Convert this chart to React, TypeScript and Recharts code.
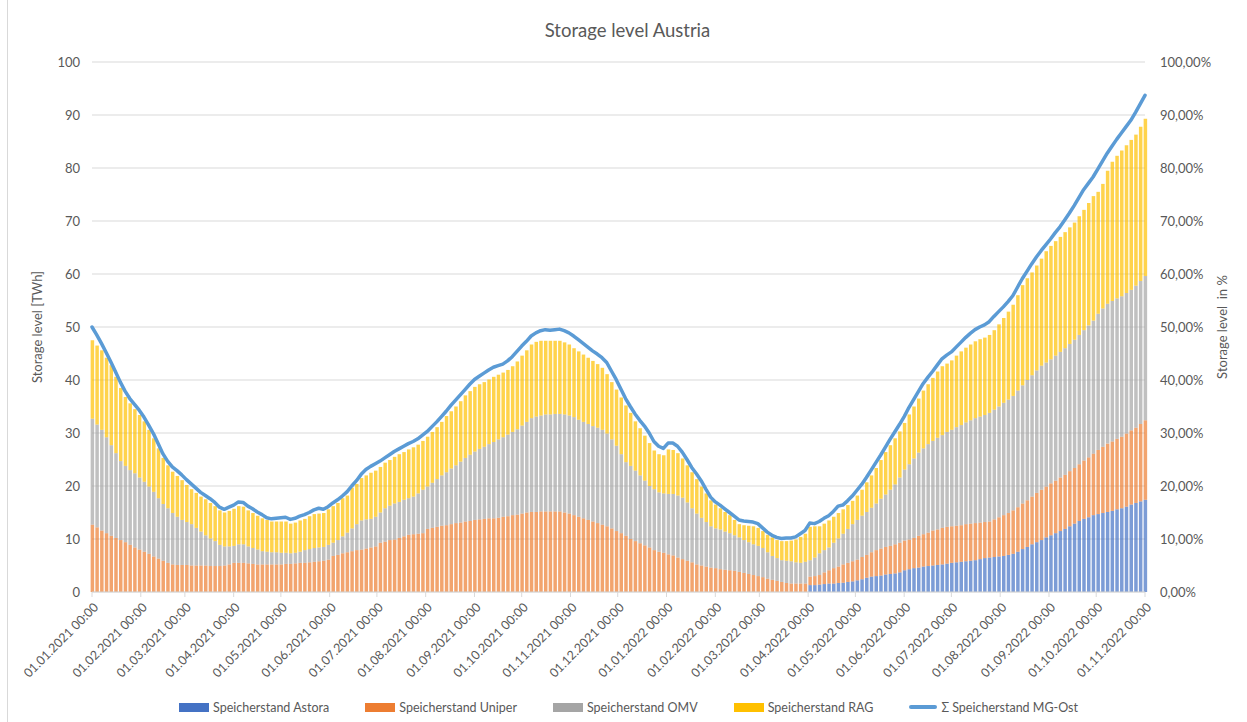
import React from "react";
import {
  Bar,
  CartesianGrid,
  ComposedChart,
  Legend,
  Line,
  XAxis,
  YAxis,
} from "recharts";

// one sample every 3 days, starting 01.01.2021
const STEP_DAYS = 3;
const START = Date.UTC(2021, 0, 1);

const monthLabels = [
  "01.01.2021 00:00", "01.02.2021 00:00", "01.03.2021 00:00", "01.04.2021 00:00",
  "01.05.2021 00:00", "01.06.2021 00:00", "01.07.2021 00:00", "01.08.2021 00:00",
  "01.09.2021 00:00", "01.10.2021 00:00", "01.11.2021 00:00", "01.12.2021 00:00",
  "01.01.2022 00:00", "01.02.2022 00:00", "01.03.2022 00:00", "01.04.2022 00:00",
  "01.05.2022 00:00", "01.06.2022 00:00", "01.07.2022 00:00", "01.08.2022 00:00",
  "01.09.2022 00:00", "01.10.2022 00:00", "01.11.2022 00:00",
];

const levelTicks = [0, 10, 20, 30, 40, 50, 60, 70, 80, 90, 100];

// TWh
const astora = [
  0, 0, 0, 0, 0, 0, 0, 0, 0, 0,
  0, 0, 0, 0, 0, 0, 0, 0, 0, 0,
  0, 0, 0, 0, 0, 0, 0, 0, 0, 0,
  0, 0, 0, 0, 0, 0, 0, 0, 0, 0,
  0, 0, 0, 0, 0, 0, 0, 0, 0, 0,
  0, 0, 0, 0, 0, 0, 0, 0, 0, 0,
  0, 0, 0, 0, 0, 0, 0, 0, 0, 0,
  0, 0, 0, 0, 0, 0, 0, 0, 0, 0,
  0, 0, 0, 0, 0, 0, 0, 0, 0, 0,
  0, 0, 0, 0, 0, 0, 0, 0, 0, 0,
  0, 0, 0, 0, 0, 0, 0, 0, 0, 0,
  0, 0, 0, 0, 0, 0, 0, 0, 0, 0,
  0, 0, 0, 0, 0, 0, 0, 0, 0, 0,
  0, 0, 0, 0, 0, 0, 0, 0, 0, 0,
  0, 0, 0, 0, 0, 0, 0, 0, 0, 0,
  0, 0, 1.3, 1.3, 1.4, 1.5, 1.6, 1.6, 1.7, 1.75,
  1.9, 2.0, 2.2, 2.4, 2.7, 2.9, 3.0, 3.1, 3.3, 3.4,
  3.5, 3.7, 4.1, 4.3, 4.5, 4.6, 4.8, 4.9, 5.0, 5.1,
  5.2, 5.35, 5.5, 5.6, 5.7, 5.8, 5.9, 6.0, 6.2, 6.4,
  6.5, 6.6, 6.7, 6.8, 7.0, 7.2, 7.6, 8.1, 8.5, 9.0,
  9.4, 9.8, 10.3, 10.7, 11.1, 11.5, 11.9, 12.4, 12.9, 13.4,
  13.8, 14.1, 14.5, 14.7, 14.9, 15.1, 15.3, 15.6, 15.8, 16.1,
  16.5, 16.8, 17.1, 17.4,
];

const uniper = [
  12.7, 12.2, 11.6, 11.1, 10.6, 10.2, 9.8, 9.4, 8.9, 8.4,
  8.0, 7.6, 7.2, 6.7, 6.3, 5.9, 5.5, 5.2, 5.1, 5.1,
  5.1, 5.0, 5.0, 5.0, 5.0, 4.9, 4.9, 4.9, 5.0, 5.2,
  5.5, 5.5, 5.5, 5.4, 5.3, 5.2, 5.2, 5.2, 5.2, 5.2,
  5.2, 5.3, 5.3, 5.4, 5.5, 5.5, 5.6, 5.7, 5.8, 5.9,
  6.1, 6.8, 7.0, 7.3, 7.5, 7.7, 7.9, 8.0, 8.2, 8.4,
  8.6, 9.3, 9.5, 9.8, 9.9, 10.2, 10.5, 10.8, 10.9, 11.0,
  11.1, 11.9, 12.1, 12.3, 12.5, 12.6, 12.8, 13.0, 13.1, 13.3,
  13.4, 13.6, 13.7, 13.8, 13.9, 13.9, 14.0, 14.2, 14.3, 14.5,
  14.6, 14.8, 15.0, 15.1, 15.1, 15.2, 15.2, 15.2, 15.2, 15.2,
  15.0, 14.8, 14.5, 14.2, 13.9, 13.6, 13.3, 13.0, 12.7, 12.4,
  12.0, 11.5, 11.1, 10.6, 10.0, 9.6, 9.2, 8.8, 8.4, 7.9,
  7.6, 7.4, 7.1, 6.9, 6.5, 6.2, 5.9, 5.6, 5.2, 5.0,
  4.8, 4.6, 4.5, 4.3, 4.2, 4.1, 4.0, 3.8, 3.6, 3.4,
  3.2, 3.0, 2.8, 2.5, 2.3, 2.1, 1.9, 1.7, 1.6, 1.6,
  1.6, 1.6, 1.6, 1.7, 1.8, 2.2, 2.5, 2.9, 3.1, 3.45,
  3.6, 3.8, 3.9, 4.2, 4.3, 4.6, 4.9, 5.1, 5.2, 5.3,
  5.5, 5.6, 5.6, 5.6, 5.7, 6.0, 6.1, 6.3, 6.6, 6.7,
  6.9, 6.95, 6.9, 6.9, 6.9, 7.0, 7.0, 7.0, 6.9, 6.8,
  6.8, 7.1, 7.4, 7.7, 7.9, 8.2, 8.4, 8.6, 8.8, 9.0,
  9.3, 9.5, 9.6, 9.8, 9.9, 10.1, 10.2, 10.4, 10.5, 10.7,
  11.0, 11.3, 11.6, 12.1, 12.5, 12.9, 13.1, 13.3, 13.5, 13.8,
  14.0, 14.2, 14.6, 15.0,
];

const omv = [
  20.0, 19.4, 19.0, 18.1, 17.1, 16.0, 14.9, 14.4, 14.1, 14.0,
  13.6, 13.2, 12.7, 12.2, 11.4, 10.7, 10.3, 9.7, 9.1, 8.5,
  8.1, 7.8, 7.1, 6.4, 5.7, 5.2, 4.7, 4.0, 3.6, 3.4,
  3.2, 3.5, 3.5, 3.2, 3.0, 2.8, 2.5, 2.4, 2.3, 2.3,
  2.2, 2.1, 2.0, 2.0, 2.1, 2.4, 2.5, 2.6, 2.6, 2.6,
  2.8, 2.5, 2.8, 3.2, 3.7, 4.3, 4.9, 5.5, 5.5, 5.4,
  5.6, 5.7, 6.3, 6.5, 6.8, 6.8, 6.9, 6.9, 7.1, 7.6,
  8.2, 8.0, 8.5, 9.0, 9.5, 10.0, 10.5, 10.9, 11.5, 12.0,
  12.5, 12.9, 13.3, 13.6, 14.0, 14.4, 14.8, 15.0, 15.4, 15.7,
  16.1, 16.6, 17.1, 17.7, 18.0, 18.1, 18.3, 18.3, 18.4, 18.4,
  18.5, 18.5, 18.5, 18.3, 18.2, 18.1, 18.0, 18.0, 17.9, 17.5,
  16.8, 16.1, 14.9, 13.9, 13.8, 13.3, 12.8, 12.2, 11.6, 11.5,
  11.2, 11.2, 11.4, 11.6, 11.7, 11.6, 11.0, 10.2, 9.6, 9.0,
  8.4, 7.8, 7.5, 7.5, 7.2, 7.0, 6.7, 6.5, 6.2, 6.0,
  5.8, 5.7, 5.5, 5.0, 4.5, 4.3, 4.1, 4.2, 4.2, 4.0,
  3.9, 4.1, 3.1, 3.5, 4.1, 4.2, 4.3, 4.8, 5.3, 5.8,
  6.4, 7.0, 7.5, 7.8, 8.1, 8.4, 8.8, 9.4, 9.9, 10.6,
  11.3, 12.3, 13.4, 14.2, 15.0, 15.7, 16.2, 16.7, 16.9, 17.3,
  17.5, 17.9, 18.2, 18.6, 18.9, 19.2, 19.5, 19.8, 20.0, 20.2,
  20.5, 20.7, 20.9, 21.2, 21.4, 21.6, 22.0, 22.3, 22.7, 22.9,
  23.1, 23.4, 23.4, 23.4, 23.6, 23.7, 23.9, 24.0, 24.2, 24.4,
  24.6, 24.9, 25.1, 25.7, 26.1, 26.4, 26.5, 26.5, 26.5, 26.5,
  26.5, 26.8, 27.0, 27.2,
];

const rag = [
  14.8, 14.9, 15.0, 15.0, 15.1, 14.4, 13.8, 13.0, 12.6, 12.1,
  11.8, 11.4, 10.7, 10.1, 9.4, 8.7, 8.1, 7.8, 7.7, 7.5,
  7.0, 6.6, 6.6, 6.6, 6.8, 6.7, 6.6, 6.5, 6.4, 6.7,
  7.0, 7.2, 7.1, 6.8, 6.6, 6.4, 6.2, 6.0, 5.8, 5.8,
  5.9, 5.9, 5.6, 5.7, 5.9, 5.9, 6.2, 6.4, 6.4, 6.4,
  6.7, 6.9, 7.0, 7.2, 7.0, 7.7, 7.6, 8.0, 8.3, 8.7,
  8.7, 8.6, 8.6, 8.6, 8.8, 9.0, 9.0, 9.2, 9.3, 9.2,
  9.2, 9.4, 9.6, 9.8, 10.1, 10.6, 10.8, 11.1, 11.4, 11.8,
  12.0, 12.2, 12.2, 12.2, 12.2, 12.3, 12.2, 12.2, 12.2, 12.4,
  12.8, 13.2, 13.5, 13.9, 14.1, 14.1, 13.9, 13.9, 13.8, 13.8,
  13.6, 13.4, 13.0, 12.9, 12.7, 12.5, 12.3, 12.0, 11.7, 11.2,
  10.8, 10.6, 10.7, 10.7, 10.0, 9.3, 8.9, 8.5, 8.1, 7.3,
  7.2, 7.2, 8.4, 8.3, 8.0, 7.4, 7.0, 6.8, 6.5, 5.9,
  5.4, 4.9, 4.5, 4.0, 3.7, 3.4, 2.9, 2.5, 2.8, 3.1,
  3.4, 3.4, 3.2, 3.3, 3.5, 3.4, 3.6, 3.7, 3.9, 4.3,
  4.9, 5.3, 6.3, 5.9, 5.1, 5.0, 5.1, 4.9, 4.8, 4.6,
  4.5, 4.4, 4.6, 4.9, 5.6, 6.1, 6.7, 7.3, 8.0, 8.4,
  8.7, 8.7, 8.8, 9.4, 9.8, 10.2, 10.9, 11.3, 11.9, 12.5,
  13.0, 12.9, 13.1, 13.5, 13.9, 14.1, 14.3, 14.5, 14.6, 14.6,
  14.7, 15.0, 15.5, 16.0, 16.6, 17.2, 18.0, 18.9, 19.2, 19.4,
  19.8, 20.2, 21.0, 21.4, 21.6, 21.7, 21.9, 22.0, 22.1, 22.4,
  22.7, 23.1, 23.5, 23.0, 23.5, 25.1, 26.3, 26.9, 27.5, 27.9,
  28.3, 28.5, 29.1, 29.7,
];

// fill level in % (secondary axis)
const totalPct = [
  50.0, 48.5, 46.9, 45.2, 43.4, 41.5, 39.6, 37.9, 36.5, 35.4,
  34.3, 33.0, 31.5, 29.9, 28.0, 26.1, 24.7, 23.6, 22.9, 22.1,
  21.2, 20.4, 19.6, 18.8, 18.2, 17.6, 16.9, 16.0, 15.6, 16.0,
  16.4, 17.0, 16.9, 16.2, 15.7, 15.1, 14.6, 14.0, 13.8, 13.9,
  14.0, 14.1, 13.7, 13.9, 14.3, 14.6, 15.0, 15.5, 15.8, 15.6,
  16.1, 16.8, 17.4, 18.1, 18.9, 20.0, 21.0, 22.2, 23.1, 23.7,
  24.2, 24.7, 25.3, 25.9, 26.5, 27.0, 27.5, 28.0, 28.4, 28.9,
  29.6, 30.3, 31.2, 32.1, 33.1, 34.1, 35.2, 36.2, 37.2, 38.2,
  39.2, 40.1, 40.7, 41.3, 41.9, 42.4, 42.7, 43.0, 43.6, 44.4,
  45.4, 46.4, 47.3, 48.3, 48.9, 49.3, 49.5, 49.4, 49.5, 49.6,
  49.3, 48.9, 48.3, 47.6, 46.9, 46.2, 45.5, 44.9, 44.2, 43.3,
  41.7, 40.1, 38.3, 36.5, 35.0, 33.6, 32.4, 31.3, 30.0, 28.4,
  27.5, 27.1, 28.1, 28.1, 27.5, 26.4, 25.0, 23.5, 22.3, 21.0,
  19.4, 17.9, 17.0, 16.4, 15.7, 15.0, 14.3, 13.6, 13.4, 13.3,
  13.2, 12.9, 12.1, 11.3, 10.7, 10.3, 10.1, 10.2, 10.2, 10.4,
  11.0, 11.6, 13.0, 12.9, 13.3, 13.9, 14.4, 15.2, 16.2, 16.4,
  17.2, 18.1, 19.2, 20.3, 21.6, 23.0, 24.4, 25.8, 27.3, 28.8,
  30.2, 31.6, 33.1, 34.8, 36.3, 37.8, 39.3, 40.5, 41.6, 42.8,
  44.0, 44.7, 45.3, 46.2, 47.1, 48.0, 48.8, 49.5, 50.0, 50.4,
  51.0, 52.0, 52.9, 53.8, 54.8, 55.9, 57.5, 59.1, 60.5, 61.9,
  63.2, 64.4, 65.5, 66.6, 67.8, 68.9, 70.2, 71.5, 72.9, 74.4,
  75.9, 77.1, 78.3, 79.8, 81.3, 82.8, 84.1, 85.4, 86.6, 87.8,
  89.0, 90.5, 92.1, 93.7,
];

function labelToDay(label: string) {
  const [d, m, y] = label.slice(0, 10).split(".").map(Number);
  return Math.round((Date.UTC(y, m - 1, d) - START) / 86400000);
}

const monthTicks = monthLabels.map(labelToDay);
const labelByDay = new Map(monthTicks.map((day, i) => [day, monthLabels[i]]));

const data = totalPct.map((total, i) => ({
  day: i * STEP_DAYS,
  astora: astora[i],
  uniper: uniper[i],
  omv: omv[i],
  rag: rag[i],
  total,
}));

const FONT = "Lato, 'Open Sans', sans-serif";
const TEXT = "#595959";
const GRID = "#D9D9D9";

const legendItems = [
  { name: "Speicherstand Astora", color: "#4472C4", line: false },
  { name: "Speicherstand Uniper", color: "#ED7D31", line: false },
  { name: "Speicherstand OMV", color: "#A5A5A5", line: false },
  { name: "Speicherstand RAG", color: "#FFC000", line: false },
  { name: "Σ Speicherstand MG-Ost", color: "#5B9BD5", line: true },
];

function ChartLegend() {
  return (
    <div
      style={{
        display: "flex",
        justifyContent: "center",
        alignItems: "center",
        gap: 36,
        height: 30,
        paddingLeft: 10,
        fontFamily: FONT,
        fontSize: 12.5,
        color: TEXT,
      }}
    >
      {legendItems.map((it) => (
        <span key={it.name} style={{ display: "flex", alignItems: "center" }}>
          <span
            style={{
              display: "inline-block",
              width: it.line ? 28 : 30,
              height: it.line ? 4 : 9,
              borderRadius: it.line ? 2 : 0,
              background: it.color,
              marginRight: 4,
            }}
          />
          {it.name}
        </span>
      ))}
    </div>
  );
}

function DateTick(props: any) {
  const { x, y, payload } = props;
  return (
    <g transform={`translate(${x + 4},${y + 6})`}>
      <text
        textAnchor="end"
        transform="rotate(-45)"
        dy="0.35em"
        fill={TEXT}
        fontSize={12.5}
        fontFamily={FONT}
      >
        {labelByDay.get(payload.value)}
      </text>
    </g>
  );
}

function formatPct(v: number) {
  return `${v.toFixed(2).replace(".", ",")}%`;
}

const tickStyle = { fill: TEXT, fontSize: 13, fontFamily: FONT };

export default function App() {
  return (
    <div style={{ position: "relative", width: 1247, height: 722, background: "#fff" }}>
      <style>{"body{margin:0}"}</style>
      <div
        style={{ position: "absolute", left: 7, top: 0, width: 1, height: 722, background: GRID }}
      />
      <div
        style={{
          position: "absolute",
          left: 8,
          width: 1239,
          top: 19,
          textAlign: "center",
          fontFamily: FONT,
          fontSize: 18.5,
          color: TEXT,
        }}
      >
        Storage level Austria
      </div>
      <ComposedChart
        width={1247}
        height={722}
        data={data}
        margin={{ top: 62, right: 0, bottom: 0, left: 0 }}
        style={{ position: "absolute", left: 0, top: 0 }}
      >
        <CartesianGrid yAxisId="left" vertical={false} stroke={GRID} strokeWidth={1} />
        <XAxis
          dataKey="day"
          type="number"
          domain={[0, monthTicks[monthTicks.length - 1]]}
          ticks={monthTicks}
          interval={0}
          height={100}
          axisLine={{ stroke: GRID }}
          tickLine={{ stroke: GRID }}
          tickSize={5}
          tick={<DateTick />}
        />
        <YAxis
          yAxisId="left"
          domain={[0, 100]}
          ticks={levelTicks}
          width={92}
          axisLine={false}
          tickLine={false}
          tickSize={0}
          tickMargin={12}
          tick={tickStyle}
          label={{
            content: () => (
              <text
                x={37}
                y={327}
                transform="rotate(-90 37 327)"
                textAnchor="middle"
                dominantBaseline="central"
                fill={TEXT}
                fontSize={13}
                fontFamily={FONT}
              >
                Storage level [TWh]
              </text>
            ),
          }}
        />
        <YAxis
          yAxisId="right"
          orientation="right"
          domain={[0, 100]}
          ticks={levelTicks}
          width={102}
          axisLine={false}
          tickLine={false}
          tickSize={0}
          tickMargin={15}
          tick={tickStyle}
          tickFormatter={formatPct}
          label={{
            content: () => (
              <text
                x={1222}
                y={327}
                transform="rotate(-90 1222 327)"
                textAnchor="middle"
                dominantBaseline="central"
                fill={TEXT}
                fontSize={13}
                fontFamily={FONT}
                style={{ whiteSpace: "pre" }}
              >
                {"Storage level  in %"}
              </text>
            ),
          }}
        />
        <Bar yAxisId="left" dataKey="astora" name="Speicherstand Astora" stackId="s" fill="#4472C4" fillOpacity={0.7} barSize={3.5} isAnimationActive={false} />
        <Bar yAxisId="left" dataKey="uniper" name="Speicherstand Uniper" stackId="s" fill="#ED7D31" fillOpacity={0.7} barSize={3.5} isAnimationActive={false} />
        <Bar yAxisId="left" dataKey="omv" name="Speicherstand OMV" stackId="s" fill="#A5A5A5" fillOpacity={0.7} barSize={3.5} isAnimationActive={false} />
        <Bar yAxisId="left" dataKey="rag" name="Speicherstand RAG" stackId="s" fill="#FFC000" fillOpacity={0.7} barSize={3.5} isAnimationActive={false} />
        <Line
          yAxisId="right"
          dataKey="total"
          name="Σ Speicherstand MG-Ost"
          type="linear"
          stroke="#5B9BD5"
          strokeWidth={3.5}
          strokeLinecap="round"
          strokeLinejoin="round"
          dot={false}
          activeDot={false}
          isAnimationActive={false}
        />
        <Legend
          verticalAlign="bottom"
          content={<ChartLegend />}
          wrapperStyle={{ left: 0, width: 1247, height: 30 }}
        />
      </ComposedChart>
    </div>
  );
}
